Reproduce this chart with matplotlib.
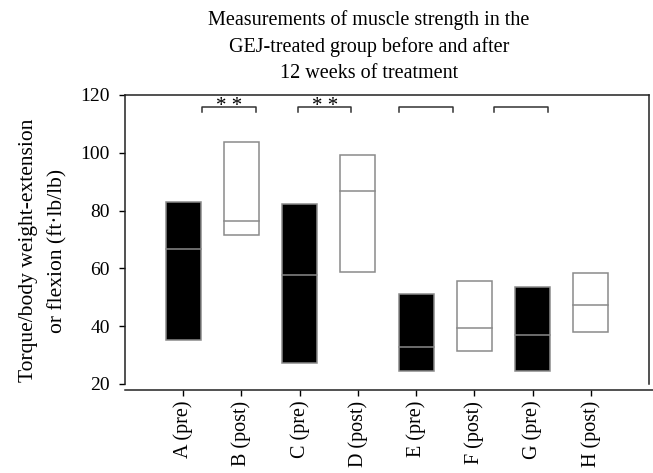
import matplotlib
matplotlib.use("Agg")
import matplotlib.pyplot as plt
from matplotlib.patches import Rectangle

plt.rcParams["font.family"] = ["Liberation Serif", "DejaVu Serif"]

groups = ["A (pre)", "B (post)", "C (pre)", "D (post)",
          "E (pre)", "F (post)", "G (pre)", "H (post)"]
low = [35.2, 71.7, 27.3, 58.9, 24.5, 31.4, 24.5, 38.1]
high = [82.9, 103.6, 82.2, 99.1, 51.0, 55.5, 53.6, 58.4]
median = [66.6, 76.3, 57.6, 86.9, 32.7, 39.4, 37.1, 47.3]
filled = [True, False, True, False, True, False, True, False]

# significance brackets: (start, end, label)
bracket_start = [0.33, 1.97, 3.70, 5.34]
bracket_end = [1.25, 2.89, 4.63, 6.26]
bracket_label = ["* *", "* *", "", ""]

fig = plt.figure(figsize=(6.53, 4.73), dpi=100)
ax = fig.add_axes([0.1914, 0.1882, 0.8025, 0.611])

edge = "#8a8a8a"
w = 0.6
for i in range(len(groups)):
    face = "black" if filled[i] else "white"
    ax.add_patch(Rectangle((i - w / 2, low[i]), w, high[i] - low[i],
                           facecolor=face, edgecolor=edge, linewidth=1.1))
    ax.plot([i - w / 2, i + w / 2], [median[i], median[i]], color=edge, lw=1.1)

for s, e, lab in zip(bracket_start, bracket_end, bracket_label):
    y = 115.8
    ax.plot([s, s, e, e], [114.1, y, y, 114.1], color="#333333", lw=1.1,
            clip_on=False)
    if lab:
        ax.text((s + e) / 2, y - 3.0, lab, ha="center", va="bottom", fontsize=15)

ax.set_xlim(-1, 8)
ax.set_ylim(20, 120)

for side in ["left", "top", "right", "bottom"]:
    ax.spines[side].set_linewidth(1.1)
    ax.spines[side].set_color("#222222")
ax.spines["bottom"].set_position(("outward", 4))
ax.spines["bottom"].set_bounds(-1, 8.07)

ax.set_xticks(range(len(groups)))
ax.set_xticklabels(groups, fontsize=14.5)
ax.set_yticks([20, 40, 60, 80, 100, 120])
ax.tick_params(axis="y", labelsize=14, direction="out", length=4, width=1, pad=7)
ax.tick_params(axis="x", direction="out", length=4, width=1, pad=4,
               labelrotation=90)

ax.set_ylabel("Torque/body weight-extension\nor flexion (ft·lb/lb)", fontsize=15.5,
              linespacing=1.7)
ax.yaxis.set_label_coords(-0.11, 0.462)
ax.set_title("Measurements of muscle strength in the\nGEJ-treated group before and after\n12 weeks of treatment",
             fontsize=14.5, linespacing=1.5, pad=12, x=0.466)

fig.savefig("out.png", dpi=100)
